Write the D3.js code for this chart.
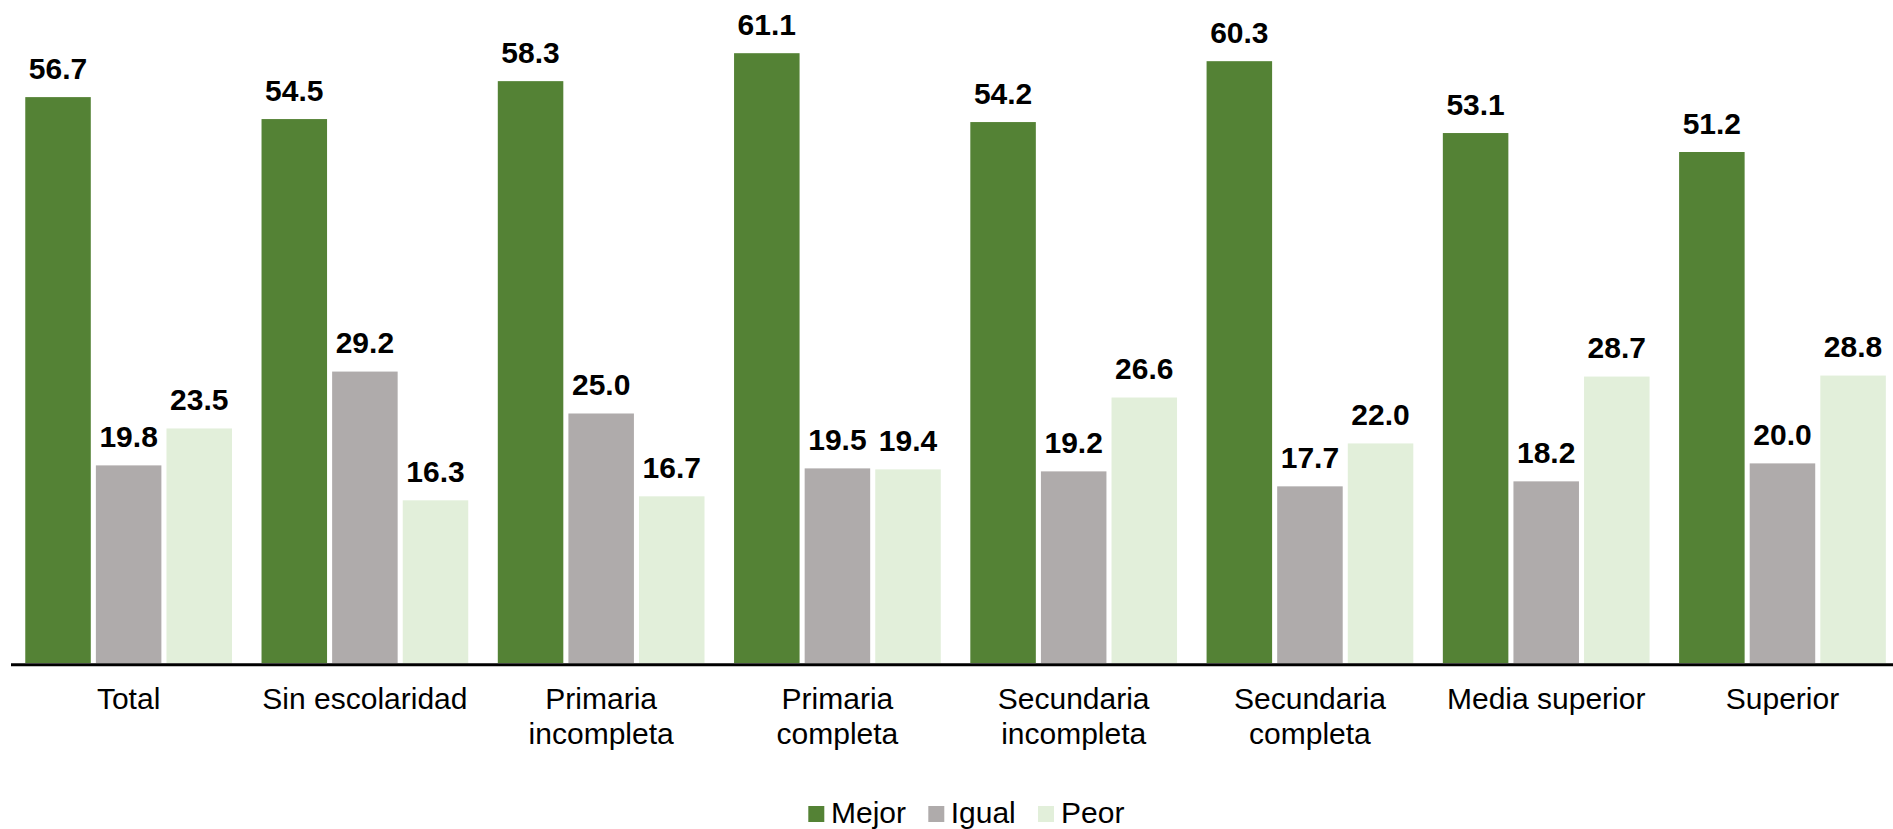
<!DOCTYPE html>
<html>
<head>
<meta charset="utf-8">
<script src="https://cdn.jsdelivr.net/npm/d3@7"></script>
<style>
  html, body { margin: 0; padding: 0; background: #ffffff; }
  svg { display: block; }
  text { font-family: "Liberation Sans", Arial, sans-serif; }
</style>
</head>
<body>
<svg id="chart" width="1893" height="829"></svg>
<script>
const categories = [
  ["Total"],
  ["Sin escolaridad"],
  ["Primaria", "incompleta"],
  ["Primaria", "completa"],
  ["Secundaria", "incompleta"],
  ["Secundaria", "completa"],
  ["Media superior"],
  ["Superior"]
];
const seriesNames = ["Mejor", "Igual", "Peor"];
const mejor = [56.7, 54.5, 58.3, 61.1, 54.2, 60.3, 53.1, 51.2];
const igual = [19.8, 29.2, 25.0, 19.5, 19.2, 17.7, 18.2, 20.0];
const peor  = [23.5, 16.3, 16.7, 19.4, 26.6, 22.0, 28.7, 28.8];
const colors = ["#548235", "#AFABAB", "#E2EFDA"];

const values = [mejor, igual, peor];
const svg = d3.select("#chart");

const x0 = d3.scaleBand()
  .domain(d3.range(categories.length))
  .range([10.5, 1900.6])
  .paddingInner(0.125)
  .paddingOuter(0.0625);

const x1 = d3.scaleBand()
  .domain(d3.range(seriesNames.length))
  .range([0, x0.bandwidth()])
  .paddingInner(0.072)
  .paddingOuter(0);

const y = d3.scaleLinear().domain([0, 66.43]).range([663, 0]);

const groups = svg.append("g").selectAll("g")
  .data(categories.map((c, i) => i))
  .join("g")
  .attr("transform", i => `translate(${x0(i)},0)`);

groups.selectAll("rect")
  .data(i => seriesNames.map((s, k) => ({k, v: values[k][i]})))
  .join("rect")
  .attr("x", d => x1(d.k))
  .attr("width", x1.bandwidth())
  .attr("y", d => y(d.v))
  .attr("height", d => y(0) - y(d.v))
  .attr("fill", d => colors[d.k]);

groups.selectAll("text.val")
  .data(i => seriesNames.map((s, k) => ({k, v: values[k][i]})))
  .join("text")
  .attr("class", "val")
  .attr("x", d => x1(d.k) + x1.bandwidth() / 2)
  .attr("y", d => y(d.v) - 18.5)
  .attr("text-anchor", "middle")
  .attr("font-size", 30)
  .attr("font-weight", "bold")
  .attr("fill", "#000")
  .text(d => d.v.toFixed(1));

// baseline axis
const xAxis = d3.axisBottom(x0).tickSize(0).tickFormat("");
const axisG = svg.append("g").attr("transform", `translate(0,${y(0) + 1.2})`).call(xAxis);
axisG.select(".domain").attr("stroke", "#000").attr("stroke-width", 3);

// category labels
const catG = svg.append("g");
categories.forEach((lines, i) => {
  const t = catG.append("text")
    .attr("x", x0(i) + x0.bandwidth() / 2)
    .attr("y", 709.3)
    .attr("text-anchor", "middle")
    .attr("font-size", 30)
    .attr("fill", "#000");
  lines.forEach((ln, j) => {
    t.append("tspan")
      .attr("x", x0(i) + x0.bandwidth() / 2)
      .attr("y", 709.3 + j * 34.5)
      .text(ln);
  });
});

// legend
const legendItems = [
  {name: "Mejor", sx: 808.3, tx: 831},
  {name: "Igual", sx: 928.3, tx: 950.7},
  {name: "Peor", sx: 1038, tx: 1061}
];
const lg = svg.append("g");
legendItems.forEach((it, k) => {
  lg.append("rect")
    .attr("x", it.sx).attr("y", 806)
    .attr("width", 16).attr("height", 16)
    .attr("fill", colors[k]);
  lg.append("text")
    .attr("x", it.tx).attr("y", 823.3)
    .attr("font-size", 30)
    .attr("fill", "#000")
    .text(seriesNames[k]);
});
</script>
</body>
</html>
